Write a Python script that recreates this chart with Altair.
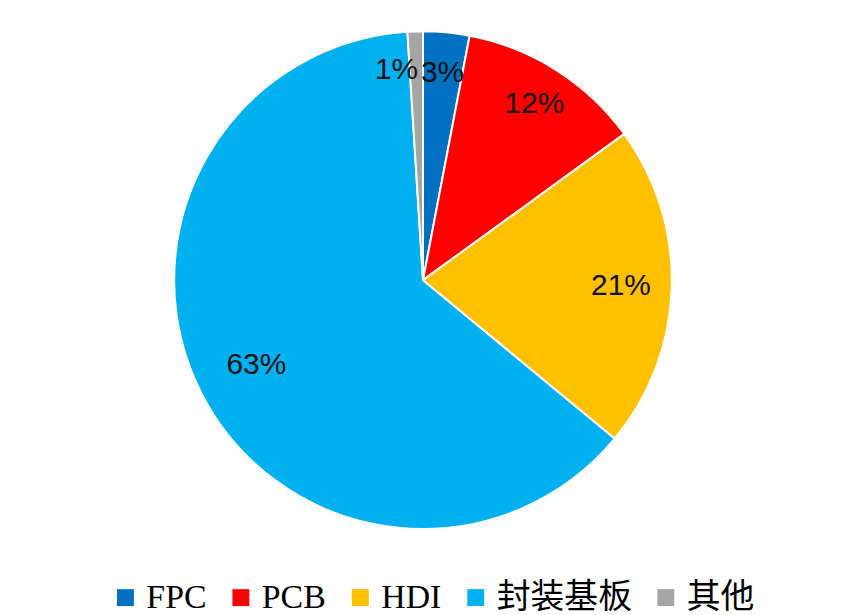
import altair as alt
import pandas as pd

categories = ["FPC", "PCB", "HDI", "封装基板", "其他"]
values = [3, 12, 21, 63, 1]
labels = ["3%", "12%", "21%", "63%", "1%"]
colors = ["#0070C0", "#FF0000", "#FFC000", "#00B0F0", "#A5A5A5"]

df = pd.DataFrame({
    "cat": categories,
    "val": values,
    "label": labels,
    "order": list(range(len(categories))),
})

theta_scale = alt.Scale(domain=[0, sum(values)])

pie = alt.Chart(df).mark_arc(outerRadius=250, stroke="white", strokeWidth=2).encode(
    theta=alt.Theta("val:Q", stack=True, scale=theta_scale),
    order=alt.Order("order:Q"),
    color=alt.Color(
        "cat:N",
        scale=alt.Scale(domain=categories, range=colors),
        sort=categories,
        legend=alt.Legend(
            title=None,
            orient="none",
            direction="horizontal",
            legendX=101,
            legendY=574,
            symbolType="square",
            symbolSize=289,
            symbolStrokeWidth=0,
            labelFont="Liberation Serif, Noto Sans CJK SC",
            labelFontSize=34,
            labelColor="#000000",
            labelOffset=4,
            columnPadding=17,
            labelLimit=300,
        ),
    ),
)

text_base = alt.Chart(df).transform_window(
    cum="sum(val)", sort=[alt.SortField("order")], frame=[None, 0]
).transform_calculate(
    mid="datum.cum - datum.val / 2"
).encode(
    theta=alt.Theta("mid:Q", stack=None, scale=theta_scale),
    text="label:N",
)

txt_style = dict(font="Liberation Sans", fontSize=30, color="#111111")

txt_top = text_base.transform_filter(
    alt.FieldOneOfPredicate(field="cat", oneOf=["FPC", "PCB"])
).mark_text(radius=209, **txt_style)

txt_hdi = text_base.transform_filter(alt.datum.cat == "HDI").mark_text(
    radius=199, **txt_style
)

txt_big = text_base.transform_filter(alt.datum.cat == "封装基板").mark_text(
    radius=188, **txt_style
)

txt_small = text_base.transform_filter(alt.datum.cat == "其他").mark_text(
    radius=211, dx=-20, **txt_style
)

chart = (pie + txt_top + txt_hdi + txt_big + txt_small).properties(
    width=834, height=544, padding=0
).configure_view(stroke=None).configure(background="white")

chart.save("out.html", embed_options={"renderer": "svg", "actions": False})
